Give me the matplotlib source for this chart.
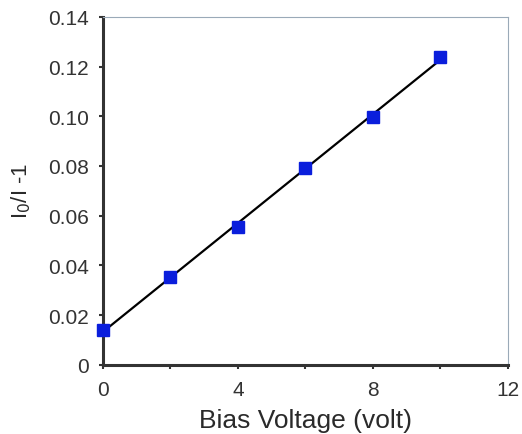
import numpy as np
import matplotlib
matplotlib.use('Agg')
import matplotlib.pyplot as plt
from matplotlib.ticker import MultipleLocator

plt.rcParams['font.family'] = ['Liberation Sans', 'DejaVu Sans']

# data
bias = [0, 2, 4, 6, 8, 10]
ratio = [0.0140, 0.0355, 0.0555, 0.0790, 0.0998, 0.1240]

fig = plt.figure(figsize=(5.22, 4.35), dpi=100)
ax = fig.add_axes([0.197, 0.159, 0.776, 0.80])

# linear fit
k, b = np.polyfit(bias, ratio, 1)
xf = np.array([bias[0], bias[-1]])
ax.plot(xf, k * xf + b, color='black', lw=1.6, zorder=2)
ax.plot(bias, ratio, 's', color='#0a1edc', ms=8.5, mec='#0a1edc', zorder=3,
        clip_on=False)

ax.set_xlim(0, 12)
ax.set_ylim(0, 0.14)
ax.xaxis.set_major_locator(MultipleLocator(4))
ax.xaxis.set_minor_locator(MultipleLocator(2))
ax.set_yticks(np.arange(0, 0.141, 0.02))
ax.set_yticklabels(['0'] + ['%.2f' % v for v in np.arange(0.02, 0.141, 0.02)])

for s in ['left', 'bottom']:
    ax.spines[s].set_linewidth(2.2)
    ax.spines[s].set_color('#333333')
for s in ['top', 'right']:
    ax.spines[s].set_linewidth(0.8)
    ax.spines[s].set_color('#9aaab8')

ax.tick_params(which='both', direction='out', length=3, width=1.5, color='#333333',
               labelsize=15, labelcolor='#333333')
ax.tick_params(axis='y', pad=7)
ax.tick_params(axis='x', which='both', pad=8)

ax.set_xlabel('Bias Voltage (volt)', fontsize=19, color='#2a2a2a')
ax.set_ylabel(r'I$_0$/I -1', fontsize=16, color='#2a2a2a')
ax.xaxis.set_label_coords(0.5, -0.125)
ax.yaxis.set_label_coords(-0.172, 0.504)

fig.savefig('out.png', dpi=100)
